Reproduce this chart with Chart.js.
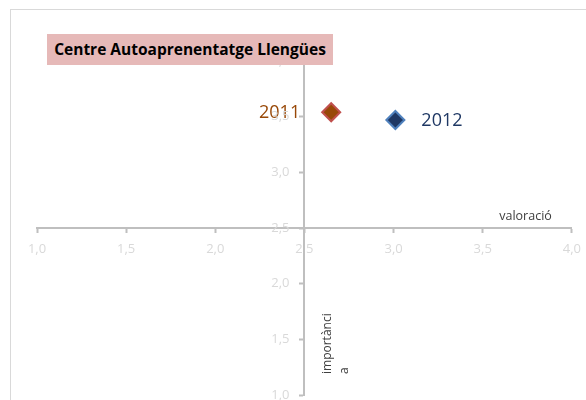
<!DOCTYPE html>
<html>
<head>
<meta charset="utf-8">
<script src="https://cdn.jsdelivr.net/npm/chart.js@4"></script>
<style>
  html, body { margin: 0; padding: 0; background: #fff; overflow: hidden; }
  #wrap { position: relative; width: 586px; height: 400px; overflow: hidden; }
  #frame {
    position: absolute; left: 10px; top: 9px; width: 620px; height: 440px;
    border: 1.5px solid #d9d9d9; box-sizing: border-box;
  }
  #chart { position: absolute; left: 0; top: 0; }
  #title {
    position: absolute; left: 47px; top: 34px; width: 286px; height: 31px;
    background: #e6b9b8; color: #000;
    font: bold 15.5px "Open Sans", sans-serif; line-height: 31px; text-align: center;
  }
</style>
</head>
<body>
<div id="wrap">
  <div id="frame"></div>
  <canvas id="chart" width="590" height="406"></canvas>
  <div id="title">Centre Autoaprenentatge Llengües</div>
</div>
<script>
  // ---- Dades ----
  const years = ['2011', '2012'];
  const valoracio = [2.65, 3.01];
  const importancia = [3.54, 3.47];
  const axisMin = 1.0;
  const axisMax = 4.0;
  const axisCross = 2.5;

  const fillColors = ['#984807', '#1f3864'];
  const borderColors = ['#c0504d', '#4f81bd'];
  const labelColors = ['#984807', '#1f3864'];

  const fmt = (v) => Number(v).toFixed(1).replace('.', ',');
  const FONT = '"Open Sans", sans-serif';
  const TICK_COLOR = '#d9d9d9';
  const TICK_FONT = '13px ' + FONT;

  // etiquetes 2011 / 2012 al costat dels punts
  const pointLabels = {
    id: 'pointLabels',
    afterDatasetsDraw(chart) {
      const { ctx } = chart;
      ctx.save();
      ctx.font = '18px ' + FONT;
      ctx.textBaseline = 'middle';
      chart.data.datasets.forEach((ds, i) => {
        const el = chart.getDatasetMeta(i).data[0];
        if (!el) return;
        ctx.fillStyle = labelColors[i];
        if (i === 0) {
          ctx.textAlign = 'right';
          ctx.fillText(ds.label, el.x - 31, el.y + 1);
        } else {
          ctx.textAlign = 'left';
          ctx.fillText(ds.label, el.x + 26, el.y + 1);
        }
      });
      ctx.restore();
    }
  };

  // etiquetes de l'eix vertical (a l'esquerra de l'eix, amb marge)
  const yTickLabels = {
    id: 'yTickLabels',
    afterDraw(chart) {
      const { ctx } = chart;
      const xs = chart.scales.x, ys = chart.scales.y;
      const ax = xs.getPixelForValue(axisCross);
      ctx.save();
      ctx.font = TICK_FONT;
      ctx.fillStyle = TICK_COLOR;
      ctx.textAlign = 'right';
      ctx.textBaseline = 'middle';
      ys.ticks.forEach(t => {
        ctx.fillText(fmt(t.value), ax - 15, ys.getPixelForValue(t.value));
      });
      ctx.restore();
    }
  };

  // títols dels eixos
  const axisTitles = {
    id: 'axisTitles',
    afterDraw(chart) {
      const { ctx } = chart;
      const xs = chart.scales.x, ys = chart.scales.y;
      const cx = xs.getPixelForValue(axisCross);
      const cy = ys.getPixelForValue(axisCross);
      ctx.save();
      ctx.fillStyle = '#404040';
      ctx.font = '12.5px ' + FONT;
      ctx.textAlign = 'center';
      ctx.textBaseline = 'middle';
      ctx.fillText('valoració', xs.getPixelForValue(3.74), cy - 12);

      ctx.font = '12px ' + FONT;
      ctx.translate(cx + 27, ys.getPixelForValue(axisMin) - 21);
      ctx.rotate(-Math.PI / 2);
      ctx.textAlign = 'left';
      ctx.textBaseline = 'alphabetic';
      ctx.fillText('importànci', 0, 0);
      ctx.fillText('a', 0, 17);
      ctx.restore();
    }
  };

  const axisStyle = {
    min: axisMin,
    max: axisMax,
    border: { display: true, color: '#bfbfbf', width: 2 },
    grid: { drawOnChartArea: false, color: '#bfbfbf', tickLength: 4, tickWidth: 2 },
    ticks: {
      stepSize: 0.5,
      color: TICK_COLOR,
      font: { family: FONT, size: 13 },
      callback: (v) => fmt(v)
    }
  };

  new Chart(document.getElementById('chart'), {
    type: 'scatter',
    data: {
      datasets: years.map((y, i) => ({
        label: y,
        data: [{ x: valoracio[i], y: importancia[i] }],
        pointStyle: 'rectRot',
        pointRadius: 9,
        pointHoverRadius: 9,
        backgroundColor: fillColors[i],
        borderColor: borderColors[i],
        borderWidth: 2
      }))
    },
    options: {
      responsive: false,
      animation: false,
      layout: { padding: { left: 37, right: 11, top: 61, bottom: 0 } },
      plugins: {
        legend: { display: false },
        title: { display: false },
        tooltip: { enabled: false }
      },
      scales: {
        x: {
          ...axisStyle,
          position: { y: axisCross },
          ticks: { ...axisStyle.ticks, padding: 9, maxRotation: 0 }
        },
        y: {
          ...axisStyle,
          position: { x: axisCross },
          ticks: { ...axisStyle.ticks, display: false }
        }
      }
    },
    plugins: [pointLabels, yTickLabels, axisTitles]
  });
</script>
</body>
</html>
